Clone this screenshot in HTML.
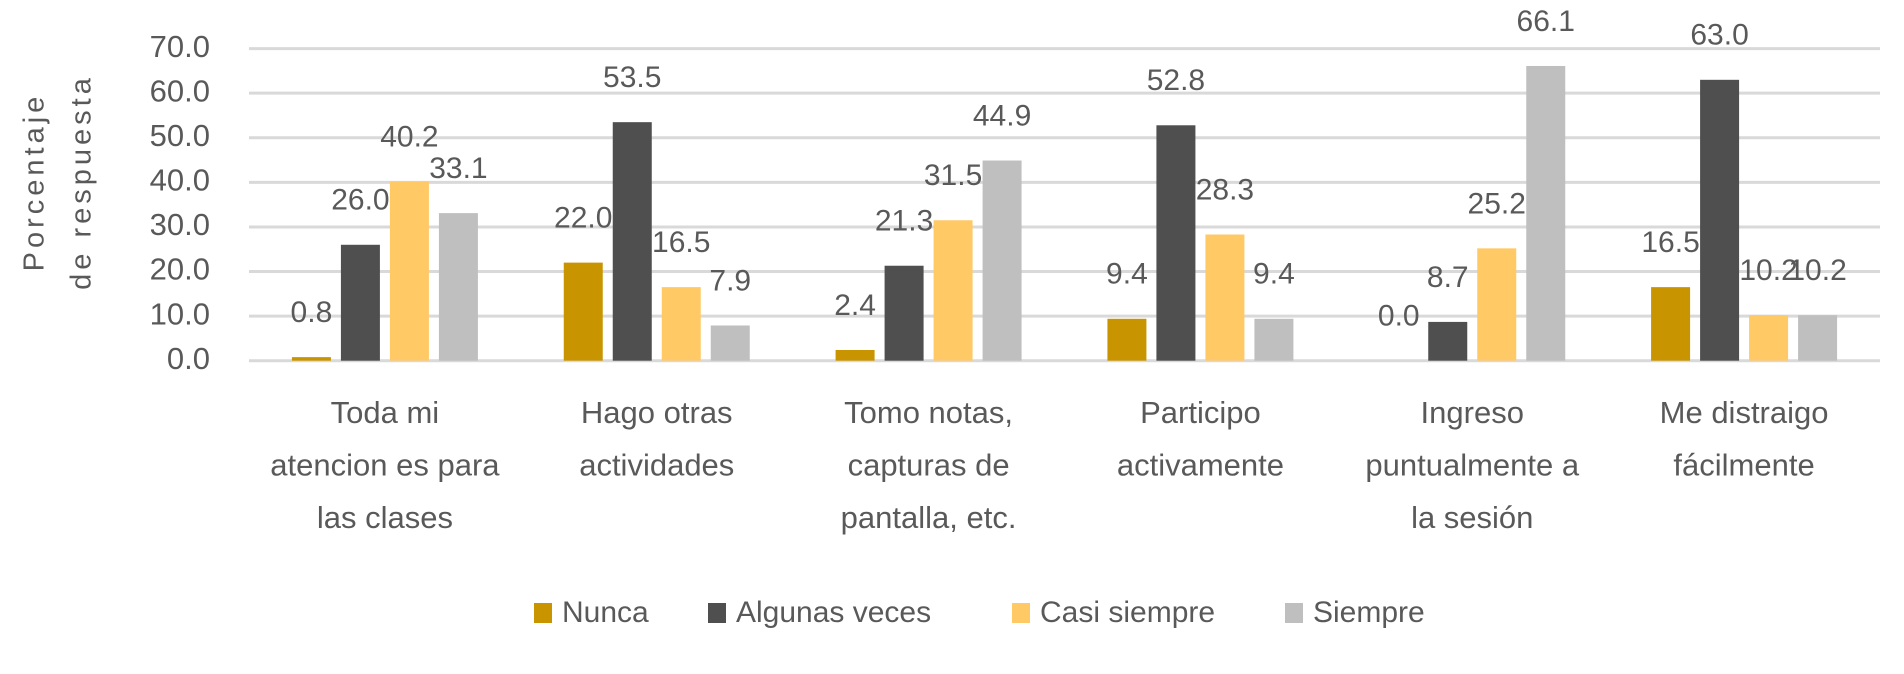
<!DOCTYPE html>
<html><head><meta charset="utf-8">
<style>
html,body{margin:0;padding:0;background:#fff;}
svg{display:block;}
text{font-family:"Liberation Sans Narrow","Liberation Sans",sans-serif;fill:#595959;}
</style></head>
<body>
<svg id="chart" width="1904" height="674" viewBox="0 0 1904 674" xmlns="http://www.w3.org/2000/svg">
<g id="grid"></g>
<g id="yticks"></g>
<g id="bars"></g>
<g id="labels"></g>
<g id="cats"></g>
<g transform="translate(36,182) rotate(-90)">
  <text x="0" y="0" text-anchor="middle" dominant-baseline="middle" font-size="29" letter-spacing="4">Porcentaje</text>
  <text x="0" y="47" text-anchor="middle" dominant-baseline="middle" font-size="29" letter-spacing="4">de respuesta</text>
</g>
<g id="legend"></g>
</svg>
<script>
const categories = [
  ["Toda mi","atencion es para","las clases"],
  ["Hago otras","actividades"],
  ["Tomo notas,","capturas de","pantalla, etc."],
  ["Participo","activamente"],
  ["Ingreso","puntualmente a","la sesión"],
  ["Me distraigo","fácilmente"]
];
const seriesNames = ["Nunca","Algunas veces","Casi siempre","Siempre"];
const nunca = [0.8,22.0,2.4,9.4,0.0,16.5];
const algunas = [26.0,53.5,21.3,52.8,8.7,63.0];
const casi = [40.2,16.5,31.5,28.3,25.2,10.2];
const siempre = [33.1,7.9,44.9,9.4,66.1,10.2];
const yTicks = [0,10,20,30,40,50,60,70];

const series = [nunca, algunas, casi, siempre];
const colors = ["#c89500","#4f4f4f","#ffc966","#bfbfbf"];
const NS = "http://www.w3.org/2000/svg";
const plotL = 249, plotR = 1880, yTop = 48.6, yBot = 360.7, yMax = 70;
const catW = (plotR - plotL) / categories.length;
const barW = 39, step = 49;
function y(v){ return yBot - (v / yMax) * (yBot - yTop); }
function catCenter(i){ return plotL + catW * (i + 0.5); }
function mk(tag, attrs, parent){
  const e = document.createElementNS(NS, tag);
  for (const k in attrs) e.setAttribute(k, attrs[k]);
  parent.appendChild(e); return e;
}
const grid = document.getElementById('grid');
const yt = document.getElementById('yticks');
yTicks.forEach(t => {
  const l = mk('line', {x1: plotL, x2: plotR, y1: y(t), y2: y(t), stroke: '#d9d9d9', 'stroke-width': 3}, grid);
  
  
  const tx = mk('text', {x: 210, y: y(t), 'text-anchor': 'end', 'dominant-baseline': 'middle', 'font-size': 31}, yt);
  tx.textContent = t.toFixed(1);
  
  
});
const bars = document.getElementById('bars');
const labels = document.getElementById('labels');
categories.forEach((c, i) => {
  const cx = catCenter(i);
  series.forEach((s, j) => {
    const x = cx + (j - 1.5) * step - barW / 2;
    const v = s[i];
    const r = mk('rect', {x: x, y: y(v), width: barW, height: Math.max(0, yBot - y(v)), fill: colors[j]}, bars);
    
    
    const lb = mk('text', {x: x + barW / 2, y: y(v) - 43, 'text-anchor': 'middle', 'dominant-baseline': 'middle', 'font-size': 30}, labels);
    lb.textContent = v.toFixed(1);
    
    
  });
  const cats = document.getElementById('cats');
  c.forEach((line, k) => {
    const t = mk('text', {x: cx, y: 415 + k * 52.5, 'text-anchor': 'middle', 'dominant-baseline': 'middle', 'font-size': 31}, cats);
    t.textContent = line;
    
    
  });
});
const legend = document.getElementById('legend');
const legX = [534, 708, 1012, 1285];
seriesNames.forEach((n, j) => {
  const sw = mk('rect', {x: legX[j], y: 603, width: 18, height: 20, fill: colors[j]}, legend);
  
  
  const t = mk('text', {x: legX[j] + 28, y: 614, 'dominant-baseline': 'middle', 'font-size': 30}, legend);
  t.textContent = n;
  
  
});
</script>
</body></html>
